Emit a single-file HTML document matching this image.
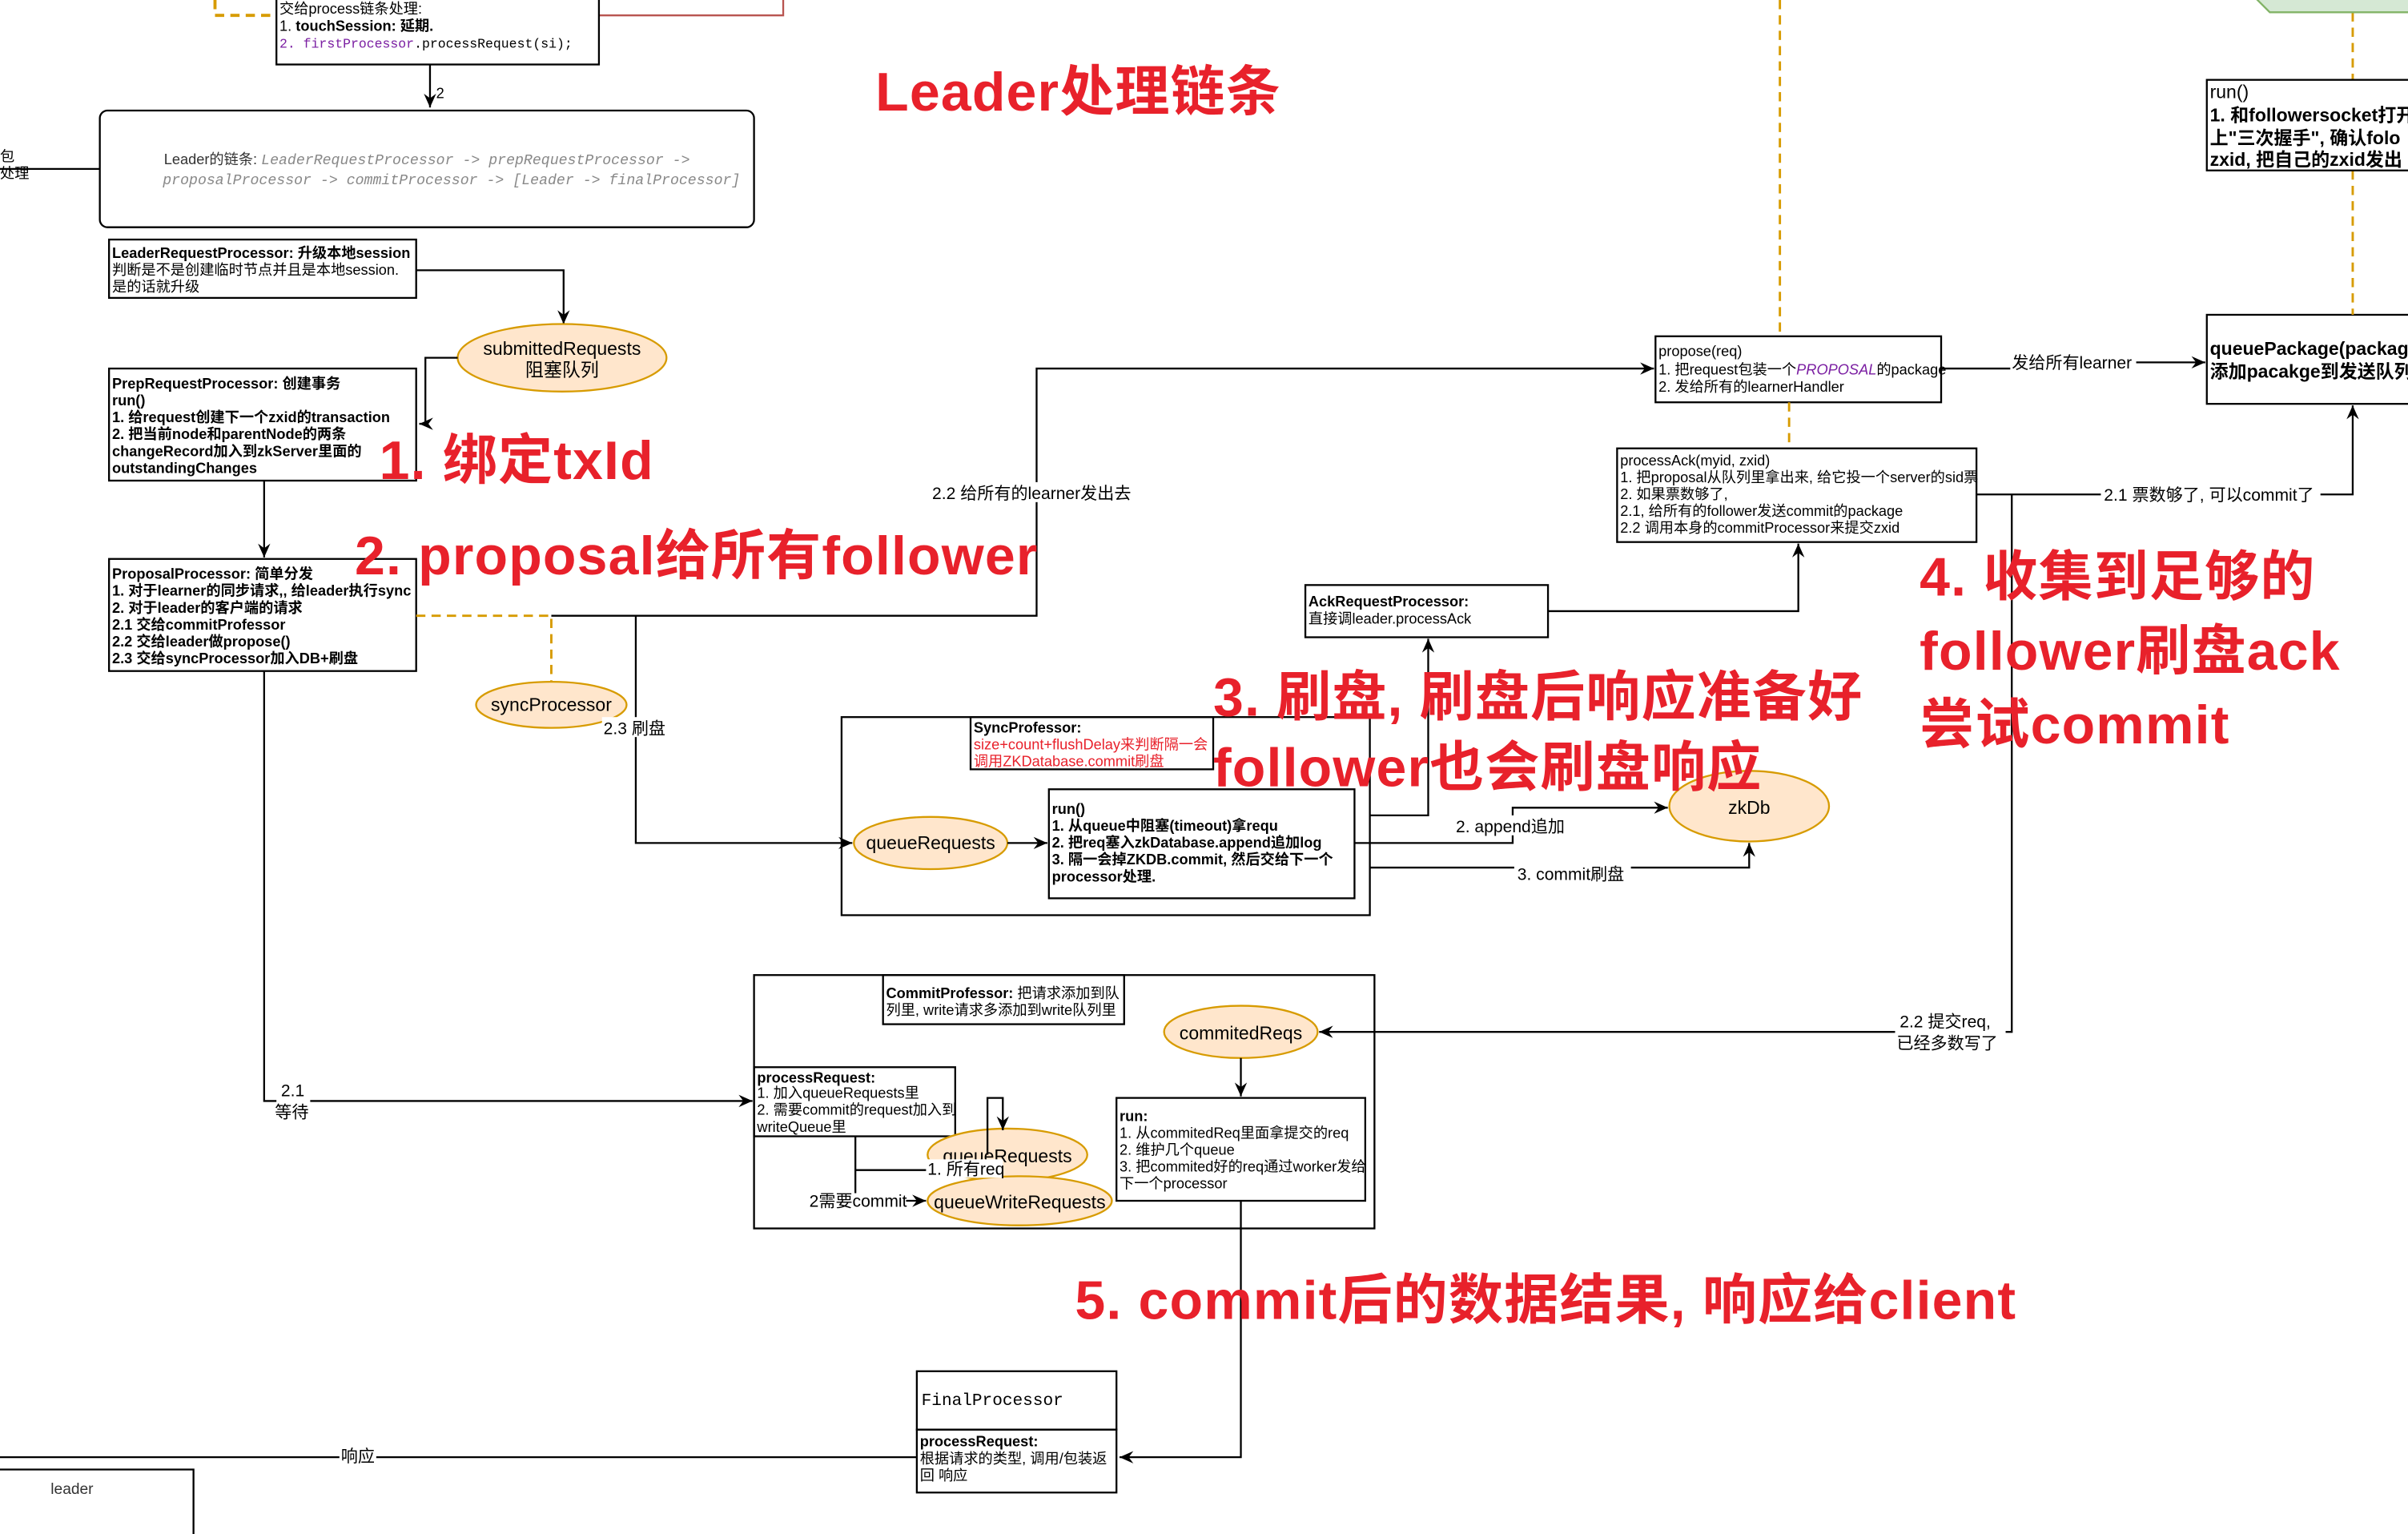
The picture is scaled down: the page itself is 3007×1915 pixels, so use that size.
<!DOCTYPE html>
<html><head><meta charset="utf-8"><style>
html,body{margin:0;padding:0;background:#fff;}
svg{display:block;}
text{font-family:"Liberation Sans","Noto Sans CJK SC",sans-serif;}
.s{font-size:9.5px;}
.b{font-weight:bold;}
.r{fill:#e8212b;font-weight:bold;font-size:35.5px;letter-spacing:0.6px;}
.m{font-family:"Liberation Mono","Noto Sans CJK SC",monospace;}
</style></head><body>
<svg width="3007" height="1915" viewBox="0 0 1568 999" preserveAspectRatio="none" xmlns="http://www.w3.org/2000/svg">
<defs>
<marker id="a" markerWidth="10" markerHeight="10" refX="9" refY="5" orient="auto" markerUnits="userSpaceOnUse"><path d="M0,1 L9,5 L0,9 L3,5 z" fill="#000"/></marker>
</defs>
<g fill="none" stroke="#000" stroke-width="1.2">
<path d="M140,0 V10 H180" stroke="#d79b00" stroke-dasharray="6,4" stroke-width="2"/>
<path d="M390,10 H510 V0" stroke="#b85450"/>
<rect x="180" y="-4" width="210" height="46"/>
<path d="M280,42 V70" marker-end="url(#a)"/>
<rect x="65" y="72" width="426" height="76" rx="5"/>
<path d="M0,110 H65"/>
<rect x="71" y="156" width="200" height="38"/>
<path d="M271,176 H367 V211" marker-end="url(#a)"/>
<ellipse cx="366" cy="233" rx="68" ry="22" fill="#ffe6cc" stroke="#d79b00"/>
<path d="M298,233 H277 V276 H273" marker-end="url(#a)"/>
<rect x="71" y="240" width="200" height="73"/>
<path d="M172,313 V363" marker-end="url(#a)"/>
<rect x="71" y="364" width="200" height="73"/>
<path d="M271,401 H359 V446" stroke="#d79b00" stroke-dasharray="6,4" stroke-width="1.5"/>
<ellipse cx="359" cy="459" rx="49" ry="15" fill="#ffe6cc" stroke="#d79b00"/>
<path d="M359,401 H675 V240 H1077" marker-end="url(#a)"/>
<path d="M414,401 V549 H555" marker-end="url(#a)"/>
<path d="M172,437 V717 H490" marker-end="url(#a)"/>
<rect x="548" y="467" width="344" height="129"/>
<rect x="632" y="467" width="158" height="34"/>
<ellipse cx="606" cy="549" rx="50" ry="17" fill="#ffe6cc" stroke="#d79b00"/>
<path d="M656,549 H682" marker-end="url(#a)"/>
<rect x="683" y="514" width="199" height="71"/>
<path d="M892,531 H930 V416" marker-end="url(#a)"/>
<path d="M882,549 H985 V526 H1086" marker-end="url(#a)"/>
<path d="M892,565 H1139 V549" marker-end="url(#a)"/>
<ellipse cx="1139" cy="525" rx="52" ry="23" fill="#ffe6cc" stroke="#d79b00"/>
<rect x="850" y="381" width="158" height="34"/>
<path d="M1008,398 H1171 V354" marker-end="url(#a)"/>
<rect x="1053" y="292" width="234" height="61"/>
<rect x="1078" y="219" width="186" height="43"/>
<path d="M1159,0 V219 M1165,262 V292" stroke="#d79b00" stroke-dasharray="6,4" stroke-width="1.5"/>
<path d="M1264,240 H1310 L1390,236 H1436" marker-end="url(#a)"/>
<rect x="1437" y="205" width="140" height="58"/>
<path d="M1532,8 V52 M1532,111 V205" stroke="#d79b00" stroke-dasharray="6,4" stroke-width="1.5"/>
<path d="M1478,-10 H1580 V8 H1478 L1468,-2 z" fill="#d5e8d4" stroke="#82b366"/>
<rect x="1437" y="52" width="140" height="59"/>
<path d="M1287,322 H1532 V264" marker-end="url(#a)"/>
<path d="M1310,322 V672 H859" marker-end="url(#a)"/>
<rect x="491" y="635" width="404" height="165"/>
<rect x="575" y="635" width="157" height="32"/>
<ellipse cx="808" cy="672" rx="50" ry="17" fill="#ffe6cc" stroke="#d79b00"/>
<path d="M808,689 V714" marker-end="url(#a)"/>
<rect x="727" y="715" width="162" height="67"/>
<rect x="491" y="695" width="131" height="45"/>
<ellipse cx="656" cy="752" rx="52" ry="17" fill="#ffe6cc" stroke="#d79b00"/>
<ellipse cx="664" cy="782" rx="60" ry="16" fill="#ffe6cc" stroke="#d79b00"/>
<path d="M643,752 V715 H653 V736" marker-end="url(#a)"/>
<path d="M557,740 V777 M557,762 H604"/>
<path d="M590,782 H603" marker-end="url(#a)"/>
<path d="M808,782 V949 H729" marker-end="url(#a)"/>
<rect x="597" y="893" width="130" height="38"/>
<rect x="597" y="931" width="130" height="41"/>
<path d="M0,949 H597"/>
<path d="M-2,957 H126 V999"/>
</g>
<text x="182" y="9" class="s">交给process链条处理:</text>
<text x="182" y="20" class="s">1. <tspan class="b">touchSession: 延期.</tspan></text>
<text x="182" y="31" class="m" font-size="8.6" fill="#7b1fa2">2. firstProcessor<tspan fill="#000">.processRequest(si);</tspan></text>
<text x="284" y="64" class="s">2</text>
<text x="0" y="105" class="s">包</text><text x="0" y="116" class="s">处理</text>
<text x="278" y="107" class="s" text-anchor="middle"><tspan fill="#333">Leader的链条: </tspan><tspan class="m" fill="#888" font-style="italic">LeaderRequestProcessor -&gt; prepRequestProcessor -&gt;</tspan></text>
<text x="294" y="120" class="s m" fill="#888" font-style="italic" text-anchor="middle">proposalProcessor -&gt; commitProcessor -&gt; [Leader -&gt; finalProcessor]</text>
<text x="73" y="168" class="s b" font-size="9">LeaderRequestProcessor: 升级本地session</text>
<text x="73" y="179" class="s" font-size="9">判断是不是创建临时节点并且是本地session.</text>
<text x="73" y="190" class="s" font-size="9">是的话就升级</text>
<text x="366" y="231" font-size="12" text-anchor="middle">submittedRequests</text>
<text x="366" y="245" font-size="12" text-anchor="middle">阻塞队列</text>
<g class="s b" font-size="9">
<text x="73" y="253">PrepRequestProcessor: 创建事务</text>
<text x="73" y="264">run()</text>
<text x="73" y="275">1. 给request创建下一个zxid的transaction</text>
<text x="73" y="286">2. 把当前node和parentNode的两条</text>
<text x="73" y="297">changeRecord加入到zkServer里面的</text>
<text x="73" y="308">outstandingChanges</text>
<text x="73" y="377">ProposalProcessor: 简单分发</text>
<text x="73" y="388">1. 对于learner的同步请求,, 给leader执行sync</text>
<text x="73" y="399">2. 对于leader的客户端的请求</text>
<text x="73" y="410">2.1 交给commitProfessor</text>
<text x="73" y="421">2.2 交给leader做propose()</text>
<text x="73" y="432">2.3 交给syncProcessor加入DB+刷盘</text>
</g>
<text x="570" y="72" class="r">Leader处理链条</text>
<text x="247" y="312" class="r">1. 绑定txId</text>
<text x="231" y="374" class="r">2. proposal给所有follower</text>
<text x="790" y="466" class="r">3. 刷盘, 刷盘后响应准备好</text>
<text x="790" y="512" class="r">follower也会刷盘响应</text>
<text x="1250" y="388" class="r">4. 收集到足够的</text>
<text x="1250" y="436" class="r">follower刷盘ack</text>
<text x="1250" y="484" class="r">尝试commit</text>
<text x="700" y="859" class="r">5. commit后的数据结果, 响应给client</text>
<text x="359" y="463" font-size="12" text-anchor="middle">syncProcessor</text>
<rect x="392" y="467" width="44" height="13" fill="#fff"/>
<text x="393" y="478" font-size="11">2.3 刷盘</text>
<rect x="606" y="314" width="138" height="13" fill="#fff"/>
<text x="607" y="325" font-size="11">2.2 给所有的learner发出去</text>
<rect x="180" y="703" width="22" height="24" fill="#fff"/>
<text x="183" y="714" font-size="11">2.1</text>
<text x="179" y="728" font-size="11">等待</text>
<text x="634" y="477" class="s b" font-size="9">SyncProfessor:</text>
<text x="634" y="488" class="s" font-size="9" fill="#e8212b">size+count+flushDelay来判断隔一会</text>
<text x="634" y="499" class="s" font-size="9" fill="#e8212b">调用ZKDatabase.commit刷盘</text>
<text x="606" y="553" font-size="12" text-anchor="middle">queueRequests</text>
<g class="s b" font-size="9">
<text x="685" y="530">run()</text>
<text x="685" y="541">1. 从queue中阻塞(timeout)拿requ</text>
<text x="685" y="552">2. 把req塞入zkDatabase.append追加log</text>
<text x="685" y="563">3. 隔一会掉ZKDB.commit, 然后交给下一个</text>
<text x="685" y="574">processor处理.</text>
</g>
<text x="1139" y="530" font-size="12" text-anchor="middle">zkDb</text>
<rect x="947" y="531" width="78" height="13" fill="#fff"/>
<text x="948" y="542" font-size="11">2. append追加</text>
<rect x="986" y="562" width="76" height="13" fill="#fff"/>
<text x="988" y="573" font-size="11">3. commit刷盘</text>
<text x="852" y="395" class="s b" font-size="9">AckRequestProcessor:</text>
<text x="852" y="406" class="s" font-size="9">直接调leader.processAck</text>
<g class="s" font-size="9">
<text x="1055" y="303">processAck(myid, zxid)</text>
<text x="1055" y="314">1. 把proposal从队列里拿出来, 给它投一个server的sid票</text>
<text x="1055" y="325">2. 如果票数够了,</text>
<text x="1055" y="336">2.1, 给所有的follower发送commit的package</text>
<text x="1055" y="347">2.2 调用本身的commitProcessor来提交zxid</text>
<text x="1080" y="232">propose(req)</text>
<text x="1080" y="244">1. 把request包装一个<tspan fill="#7b1fa2" font-style="italic">PROPOSAL</tspan>的package</text>
<text x="1080" y="255">2. 发给所有的learnerHandler</text>
</g>
<rect x="1309" y="230" width="82" height="13" fill="#fff"/>
<text x="1310" y="240" font-size="11">发给所有learner</text>
<text x="1439" y="231" font-size="12" class="b">queuePackage(packag</text>
<text x="1439" y="246" font-size="12" class="b">添加pacakge到发送队列</text>
<text x="1439" y="64" font-size="12">run()</text>
<text x="1439" y="79" font-size="12" class="b">1. 和followersocket打开</text>
<text x="1439" y="94" font-size="12" class="b">上"三次握手", 确认folo</text>
<text x="1439" y="108" font-size="12" class="b">zxid, 把自己的zxid发出</text>
<rect x="1368" y="315" width="143" height="13" fill="#fff"/>
<text x="1370" y="326" font-size="11">2.1 票数够了, 可以commit了</text>
<rect x="1234" y="658" width="72" height="28" fill="#fff"/>
<text x="1237" y="669" font-size="11">2.2 提交req,</text>
<text x="1235" y="683" font-size="11">已经多数写了</text>
<text x="577" y="650" class="s" font-size="9"><tspan class="b">CommitProfessor:</tspan> 把请求添加到队</text>
<text x="577" y="661" class="s" font-size="9">列里, write请求多添加到write队列里</text>
<text x="808" y="677" font-size="12" text-anchor="middle">commitedReqs</text>
<g class="s" font-size="9">
<text x="729" y="730" class="b">run:</text>
<text x="729" y="741">1. 从commitedReq里面拿提交的req</text>
<text x="729" y="752">2. 维护几个queue</text>
<text x="729" y="763">3. 把commited好的req通过worker发给</text>
<text x="729" y="774">下一个processor</text>
<text x="493" y="705" class="b">processRequest:</text>
<text x="493" y="715">1. 加入queueRequests里</text>
<text x="493" y="726">2. 需要commit的request加入到</text>
<text x="493" y="737">writeQueue里</text>
</g>
<text x="656" y="757" font-size="12" text-anchor="middle">queueRequests</text>
<rect x="603" y="755" width="50" height="12" fill="#fff"/>
<text x="604" y="765" font-size="11">1. 所有req</text>
<text x="527" y="786" font-size="11">2需要commit</text>
<text x="664" y="787" font-size="12" text-anchor="middle">queueWriteRequests</text>
<text x="600" y="915" font-size="11" class="m">FinalProcessor</text>
<text x="599" y="942" class="s b" font-size="9">processRequest:</text>
<text x="599" y="953" class="s" font-size="9">根据请求的类型, 调用/包装返</text>
<text x="599" y="964" class="s" font-size="9">回 响应</text>
<rect x="221" y="942" width="24" height="13" fill="#fff"/>
<text x="222" y="952" font-size="11">响应</text>
<text x="33" y="973" font-size="10" fill="#333">leader</text>
</svg>
</body></html>
